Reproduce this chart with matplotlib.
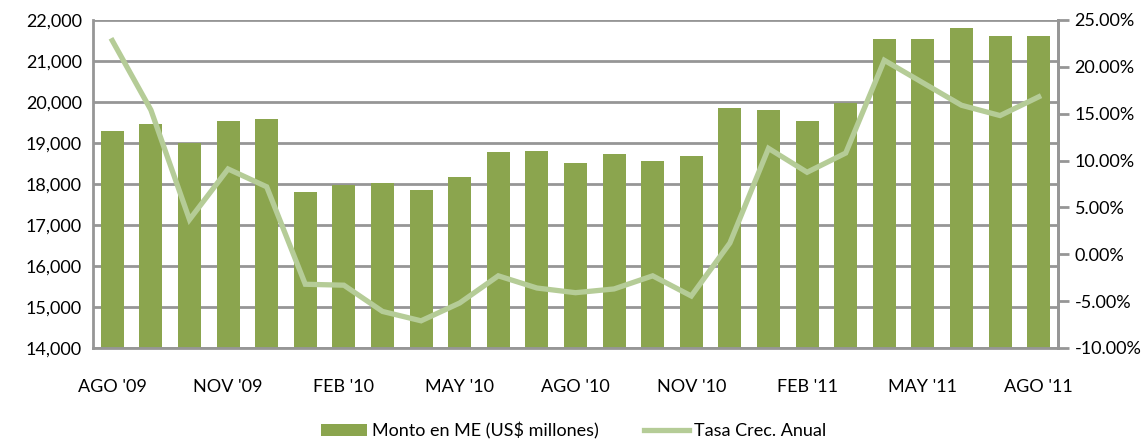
import matplotlib
matplotlib.use("Agg")
import matplotlib.pyplot as plt
from matplotlib.ticker import FuncFormatter

plt.rcParams['font.family'] = ['Lato', 'DejaVu Sans']

# -- data --
meses = ["AGO '09", "SEP '09", "OCT '09", "NOV '09", "DIC '09", "ENE '10", "FEB '10",
         "MAR '10", "ABR '10", "MAY '10", "JUN '10", "JUL '10", "AGO '10", "SEP '10",
         "OCT '10", "NOV '10", "DIC '10", "ENE '11", "FEB '11", "MAR '11", "ABR '11",
         "MAY '11", "JUN '11", "JUL '11", "AGO '11"]
monto_me = [19290, 19465, 19010, 19540, 19585, 17805, 17965, 18025, 17855, 18170,
            18780, 18805, 18510, 18730, 18560, 18685, 19855, 19805, 19540, 19965,
            21540, 21540, 21805, 21615, 21615]
tasa_crec = [22.8, 15.4, 3.7, 9.1, 7.2, -3.2, -3.3, -6.1, -7.1, -5.2,
             -2.3, -3.6, -4.1, -3.7, -2.3, -4.45, 1.2, 11.3, 8.75, 10.8,
             20.7, 18.3, 15.9, 14.8, 16.8]

bar_color = '#8BA54E'
line_color = '#B5CC97'
grid_color = '#969696'

fig = plt.figure(figsize=(11.48, 4.42), dpi=100)
ax1 = fig.add_axes([0.081, 0.2127, 0.8406, 0.7421])
x = list(range(len(meses)))

# -- bars --
b = ax1.bar(x, monto_me, width=0.6, color=bar_color, zorder=2,
            label='Monto en ME (US$ millones)')
ax1.set_ylim(14000, 22000)
ax1.set_yticks(range(14000, 22001, 1000))
ax1.yaxis.set_major_formatter(FuncFormatter(lambda v, p: f'{int(v):,}'))
ax1.set_xlim(-0.5, len(meses) - 0.5)
ax1.set_xticks(x[::3])
ax1.set_xticklabels(meses[::3])
ax1.grid(axis='y', color=grid_color, linewidth=2, zorder=0)
ax1.set_axisbelow(True)
ax1.tick_params(axis='y', length=0, labelsize=13, pad=8, colors='black')
ax1.tick_params(axis='x', length=0, labelsize=13, pad=22)
for s in ['top']:
    ax1.spines[s].set_visible(False)
for s in ['left', 'bottom', 'right']:
    ax1.spines[s].set_color(grid_color)
    ax1.spines[s].set_linewidth(2)

# -- line on right axis --
ax2 = ax1.twinx()
l, = ax2.plot(x, tasa_crec, color=line_color, linewidth=3.8, zorder=3,
              label='Tasa Crec. Anual', solid_joinstyle='miter')
ax2.set_ylim(-10, 25)
ax2.set_yticks(range(-10, 26, 5))
ax2.yaxis.set_major_formatter(FuncFormatter(lambda v, p: f'{v:.2f}%'))
ax2.tick_params(axis='y', direction='out', length=8, width=2, color=grid_color,
                labelsize=13, pad=4)
for s in ['top', 'left', 'bottom']:
    ax2.spines[s].set_visible(False)
ax2.spines['right'].set_color(grid_color)
ax2.spines['right'].set_linewidth(2)

fig.legend(handles=[b, l], loc='center', bbox_to_anchor=(0.5, 0.025),
           ncol=2, frameon=False, fontsize=13, handlelength=2.5,
           columnspacing=2.5, handletextpad=0.3)

fig.savefig('out.png', dpi=100)
